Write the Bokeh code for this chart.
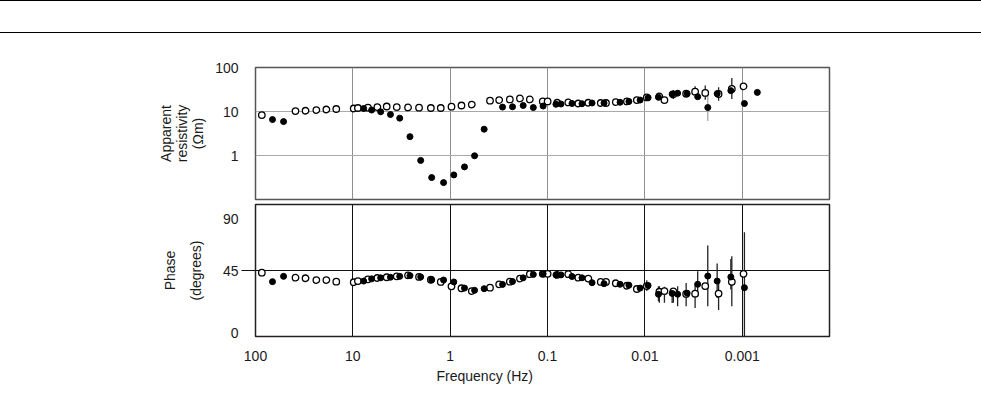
import numpy as np
from bokeh.plotting import figure
from bokeh.models import Range1d, FixedTicker, LinearAxis, Title, Div, ColumnDataSource
from bokeh.layouts import column
from bokeh.embed import file_html
from bokeh.resources import INLINE

# ---------------- data ----------------
x_ticks = [100, 10, 1, 0.1, 0.01, 0.001]
x_tick_labels = ["100", "10", "1", "0.1", "0.01", "0.001"]
rho_ticks = [1, 10, 100]
rho_tick_labels = ["1", "10", "100"]
phase_ticks = [0, 45, 90]
phase_tick_labels = ["0\n", "45", "\n90"]

# open circles
freq_open = [86.1, 38.8, 30.6, 23.7, 18.7, 14.8, 9.8, 8.87, 7.0, 5.6, 4.49, 3.54, 2.71, 2.09,
             1.58, 1.25, 0.97, 0.766, 0.60, 0.39, 0.314, 0.244, 0.192, 0.152, 0.112, 0.0998,
             0.0794, 0.0612, 0.0483, 0.0381, 0.0284, 0.0251, 0.0199, 0.0153, 0.0121, 0.00957,
             0.0071, 0.0063, 0.0051, 0.00377, 0.00305, 0.0024, 0.00175, 0.00128, 0.00097]
rho_open = [8.3, 10.2, 10.4, 10.8, 11.1, 11.4, 11.7, 12.0, 12.2, 12.6, 13.0, 12.6, 12.4, 12.2,
            12.0, 12.0, 12.9, 13.7, 14.4, 17.6, 18.2, 18.8, 19.8, 18.8, 16.9, 16.9,
            15.8, 16.1, 15.2, 15.8, 15.6, 15.6, 16.4, 16.9, 18.2, 20.9,
            22.0, 18.2, 24.5, 25.4, 28.2, 26.4, 25.0, 32.6, 37.3]
phase_open = [43.5, 40.1, 39.7, 38.5, 38.5, 37.4, 37.0, 37.8, 39.0, 39.9, 40.4, 41.0, 41.7, 40.6,
              38.7, 37.2, 34.2, 32.9, 31.0, 33.3, 35.6, 37.4, 39.5, 42.5, 42.7, 42.7,
              42.0, 42.5, 40.1, 39.5, 37.2, 37.2, 36.3, 34.6, 32.4, 34.4,
              30.5, 31.0, 30.8, 29.0, 29.2, 34.4, 29.3, 37.3, 42.7]

# filled circles
freq_filled = [66.9, 51.5, 7.74, 6.41, 5.18, 4.11, 3.30, 2.59, 2.01, 1.55, 1.17, 0.918, 0.713,
               0.562, 0.448, 0.290, 0.229, 0.178, 0.140, 0.111, 0.082, 0.0728, 0.0561, 0.0443,
               0.0349, 0.0263, 0.0180, 0.0146, 0.0112, 0.00927, 0.00726, 0.00525, 0.00461,
               0.00368, 0.00287, 0.00226, 0.00181, 0.00131, 0.00095, 0.00070]
rho_filled = [6.56, 5.9, 11.7, 10.8, 9.84, 8.54, 7.06, 2.68, 0.772, 0.315, 0.242, 0.362, 0.551,
              0.985, 3.96, 12.6, 12.8, 13.7, 12.3, 13.3, 14.6, 14.8, 15.2, 15.0,
              15.6, 15.6, 16.2, 16.9, 18.2, 20.6, 21.1, 24.8, 26.1,
              25.4, 21.7, 12.3, 25.4, 29.8, 15.2, 27.2]
phase_filled = [37.4, 41.0, 37.8, 39.3, 40.0, 40.4, 41.0, 41.5, 40.6, 38.7, 38.5, 37.2, 33.0,
                31.5, 32.6, 35.5, 37.5, 40.0, 42.3, 42.7, 42.0, 42.0, 40.9, 40.0,
                36.7, 36.0, 35.6, 35.0, 33.0, 34.8, 28.8, 29.4, 28.8,
                29.5, 35.6, 41.2, 37.8, 40.6, 33.3, np.nan]

# error bars (resistivity)
rho_err_freq_open = [0.0051, 0.00377, 0.00305, 0.0024, 0.00175, 0.00128]
rho_err_lo_open = [19.2, 20.9, 23.7, 18.5, 17.6, 19.2]
rho_err_hi_open = [30.9, 30.9, 37.3, 38.8, 35.4, 58.0]
rho_err_freq_filled = [0.00226]
rho_err_lo_filled = [6.1]
rho_err_hi_filled = [28.7]

# error bars (phase)
ph_err_freq_open = [0.00957, 0.0071, 0.0063, 0.0051, 0.00377, 0.00305, 0.00175, 0.00128]
ph_err_lo_open = [31.0, 23.0, 23.0, 23.0, 20.6, 19.5, 18.0, 20.6]
ph_err_hi_open = [38.4, 34.3, 34.0, 31.8, 36.5, 35.0, 37.7, 54.8]
ph_err_freq_filled = [0.00726, 0.00525, 0.00461, 0.00287, 0.00226, 0.00181, 0.00131, 0.00095]
ph_err_lo_filled = [24.1, 22.9, 20.6, 27.5, 20.6, 26.3, 32.0, 0.0]
ph_err_hi_filled = [34.3, 31.8, 34.3, 44.5, 62.0, 49.8, 52.9, 71.0]

# ---------------- styling ----------------
FONT = "Liberation Sans"
TXT = "#1a1a1a"
FS = "14px"
W = 981
ML, MR = 255, 152
x_lo, x_hi = 100, 1.27e-4

src_open = ColumnDataSource(dict(f=freq_open, rho=rho_open, ph=phase_open))
src_filled = ColumnDataSource(dict(f=freq_filled, rho=rho_filled, ph=np.array(phase_filled, dtype=float)))

rules = Div(text="", width=W, height=33, margin=(0, 0, 0, 0),
            styles={"border-top": "1.5px solid #000", "border-bottom": "1.5px solid #000",
                    "box-sizing": "border-box"})

# ---------------- top panel ----------------
top = figure(width=W, height=169, x_axis_type="log", y_axis_type="log",
             x_range=Range1d(x_lo, x_hi), y_range=Range1d(0.1, 100),
             x_axis_location=None, output_backend="svg", toolbar_location=None,
             min_border_left=ML, min_border_right=MR, min_border_top=34, min_border_bottom=3)
top.background_fill_color = "white"
top.border_fill_color = "white"
top.outline_line_color = "#555555"
top.outline_line_width = 1.5
top.xgrid.ticker = FixedTicker(ticks=x_ticks)
top.xgrid.grid_line_color = "#8f8f8f"
top.ygrid.ticker = FixedTicker(ticks=[1, 10])
top.ygrid.grid_line_color = "#a8a8a8"
ya = top.yaxis[0]
ya.ticker = FixedTicker(ticks=rho_ticks)
ya.major_label_overrides = dict(zip(rho_ticks, rho_tick_labels))
ya.axis_line_color = None
ya.major_tick_out = 0
ya.major_tick_in = 0
ya.minor_tick_out = 0
ya.minor_tick_in = 0
ya.major_label_standoff = 17
ya.major_label_text_font = FONT
ya.major_label_text_font_size = FS
ya.major_label_text_color = TXT
ya.axis_label = "Apparent\nresistivity\n(Ωm)"
ya.axis_label_text_font = FONT
ya.axis_label_text_font_size = FS
ya.axis_label_text_font_style = "normal"
ya.axis_label_text_color = TXT
ya.axis_label_standoff = 6
ya.axis_label_text_line_height = 1.0

top.segment(x0=rho_err_freq_open, y0=rho_err_lo_open, x1=rho_err_freq_open, y1=rho_err_hi_open,
            line_color="#222222", line_width=1.3)
top.segment(x0=rho_err_freq_filled, y0=rho_err_lo_filled, x1=rho_err_freq_filled, y1=rho_err_hi_filled,
            line_color="#a0a0a0", line_width=1.2)
top.scatter("f", "rho", source=src_open, size=6.5, fill_color="white", line_color="black", line_width=1.3)
top.scatter("f", "rho", source=src_filled, size=6, fill_color="black", line_color="black", line_width=1)

# ---------------- bottom panel ----------------
bot = figure(width=W, height=186, x_axis_type="log",
             x_range=Range1d(x_lo, x_hi), y_range=Range1d(0, 90),
             y_axis_location=None, output_backend="svg", toolbar_location=None,
             min_border_left=ML, min_border_right=MR, min_border_top=2, min_border_bottom=52)
bot.background_fill_color = "white"
bot.border_fill_color = "white"
bot.outline_line_color = "#222222"
bot.outline_line_width = 1.5
bot.xgrid.ticker = FixedTicker(ticks=x_ticks)
bot.xgrid.grid_line_color = "#111111"
bot.ygrid.ticker = FixedTicker(ticks=[45])
bot.ygrid.grid_line_color = "#111111"

xa = bot.xaxis[0]
xa.ticker = FixedTicker(ticks=x_ticks)
xa.major_label_overrides = dict(zip(x_ticks, x_tick_labels))
xa.axis_line_color = None
xa.major_tick_out = 0
xa.major_tick_in = 0
xa.minor_tick_out = 0
xa.minor_tick_in = 0
xa.major_label_standoff = 14
xa.major_label_text_font = FONT
xa.major_label_text_font_size = FS
xa.major_label_text_color = TXT

tick45 = LinearAxis(ticker=FixedTicker(ticks=[45]), major_label_overrides={45: ""},
                    axis_line_color=None, major_tick_in=0, major_tick_out=14,
                    major_tick_line_color="#111111", minor_tick_out=0, minor_tick_in=0,
                    major_label_standoff=0)
bot.add_layout(tick45, "left")
pya = LinearAxis(ticker=FixedTicker(ticks=phase_ticks),
                 major_label_overrides=dict(zip(phase_ticks, phase_tick_labels)),
                 axis_line_color=None, major_tick_in=0, major_tick_out=0,
                 minor_tick_out=0, minor_tick_in=0, major_label_standoff=3,
                 major_label_text_font=FONT, major_label_text_font_size=FS,
                 major_label_text_color=TXT, major_label_text_line_height=0.5,
                 axis_label="Phase\n(degrees)", axis_label_text_font=FONT,
                 axis_label_text_font_size=FS, axis_label_text_font_style="normal",
                 axis_label_text_color=TXT, axis_label_standoff=16,
                 axis_label_text_line_height=1.6)
bot.add_layout(pya, "left")

bot.add_layout(Title(text="Frequency (Hz)", align="left", offset=181, standoff=4,
                     text_font=FONT, text_font_size=FS, text_font_style="normal",
                     text_color=TXT), "below")

bot.segment(x0=ph_err_freq_open, y0=ph_err_lo_open, x1=ph_err_freq_open, y1=ph_err_hi_open,
            line_color="#222222", line_width=1.3)
bot.segment(x0=ph_err_freq_filled, y0=ph_err_lo_filled, x1=ph_err_freq_filled, y1=ph_err_hi_filled,
            line_color="#222222", line_width=1.3)
bot.scatter("f", "ph", source=src_open, size=6.5, fill_color="white", line_color="black", line_width=1.3)
bot.scatter("f", "ph", source=src_filled, size=6, fill_color="black", line_color="black", line_width=1)

layout = column(rules, top, bot, spacing=0)
open("out.html", "w").write(file_html(layout, INLINE))
